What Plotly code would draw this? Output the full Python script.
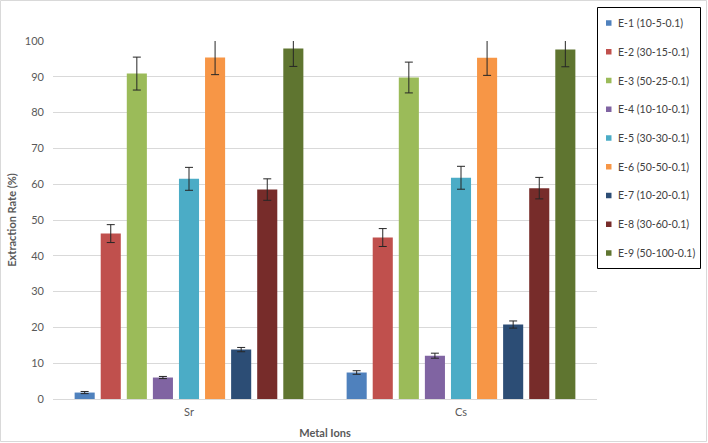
import plotly.graph_objects as go

categories = ["Sr", "Cs"]
series_names = ["E-1 (10-5-0.1)", "E-2 (30-15-0.1)", "E-3 (50-25-0.1)", "E-4 (10-10-0.1)",
                "E-5 (30-30-0.1)", "E-6 (50-50-0.1)", "E-7 (10-20-0.1)", "E-8 (30-60-0.1)",
                "E-9 (50-100-0.1)"]
sr_values = [1.8, 46.2, 90.9, 6.0, 61.5, 95.4, 13.8, 58.5, 97.9]
cs_values = [7.4, 45.1, 89.8, 12.1, 61.8, 95.3, 20.8, 58.9, 97.6]
sr_errors = [0.3, 2.5, 4.6, 0.3, 3.2, 4.8, 0.6, 3.0, 5.0]
cs_errors = [0.5, 2.5, 4.3, 0.7, 3.2, 4.9, 1.0, 3.0, 4.8]
colors = ["#4F81BD", "#C0504D", "#9BBB59", "#8064A2", "#4BACC6",
          "#F79646", "#2C4D75", "#772C2A", "#5F7530"]

W, H = 708, 443
ML, MR, MT, MB = 53, 111, 41, 44
pw, ph = W - ML - MR, H - MT - MB


def px_x(px):
    return (px - ML) / pw


def px_y(py):
    return (H - MB - py) / ph


fig = go.Figure()
for i, name in enumerate(series_names):
    fig.add_trace(go.Bar(
        x=categories, y=[sr_values[i], cs_values[i]], name=name,
        marker=dict(color=colors[i], line=dict(width=0)),
        showlegend=False,
        error_y=dict(type="data", array=[sr_errors[i], cs_errors[i]],
                     color="#262626", thickness=1, width=4),
    ))

font_family = "Lato, 'Open Sans', sans-serif"

shapes = [
    # chart border
    dict(type="rect", xref="paper", yref="paper",
         x0=px_x(0.5), x1=px_x(W - 1.5), y0=px_y(H - 1.5), y1=px_y(0.5),
         line=dict(color="#d9d9d9", width=1)),
    # legend box
    dict(type="rect", xref="paper", yref="paper",
         x0=px_x(597.5), x1=px_x(700.5), y0=px_y(268.5), y1=px_y(7.5),
         line=dict(color="black", width=1), fillcolor="white"),
]
annotations = []
for i, name in enumerate(series_names):
    cy = 23 + i * 28.75
    shapes.append(dict(type="rect", xref="paper", yref="paper",
                       x0=px_x(606), x1=px_x(611.5), y0=px_y(cy + 2.75), y1=px_y(cy - 2.75),
                       line=dict(width=0), fillcolor=colors[i]))
    annotations.append(dict(xref="paper", yref="paper", x=px_x(616), y=px_y(cy),
                            xanchor="left", yanchor="middle", text=name, showarrow=False,
                            font=dict(size=10.5, color="#404040", family=font_family)))

fig.update_layout(
    width=W, height=H,
    margin=dict(l=ML, r=MR, t=MT, b=MB, autoexpand=False),
    paper_bgcolor="white", plot_bgcolor="white",
    barmode="group", bargap=0.137, bargroupgap=0.23,
    font=dict(family=font_family, size=11, color="#595959"),
    showlegend=False,
    xaxis=dict(range=[-0.5, 1.5], showgrid=False, showline=True, linecolor="#d9d9d9",
               linewidth=1, ticks="", ticklabelstandoff=3, tickfont=dict(size=11, color="#595959"),
               title=dict(text="<b>Metal Ions</b>", font=dict(size=11, color="#595959"), standoff=12)),
    yaxis=dict(range=[0, 100], dtick=10, showgrid=True, gridcolor="#d9d9d9", gridwidth=1,
               zeroline=False, showline=False, ticks="", ticklabelstandoff=8,
               tickfont=dict(size=11, color="#595959"),
               title=dict(text="<b>Extraction Rate (%)</b>", font=dict(size=11, color="#595959"), standoff=6)),
    shapes=shapes,
    annotations=annotations,
)

fig.write_html("out.html")
